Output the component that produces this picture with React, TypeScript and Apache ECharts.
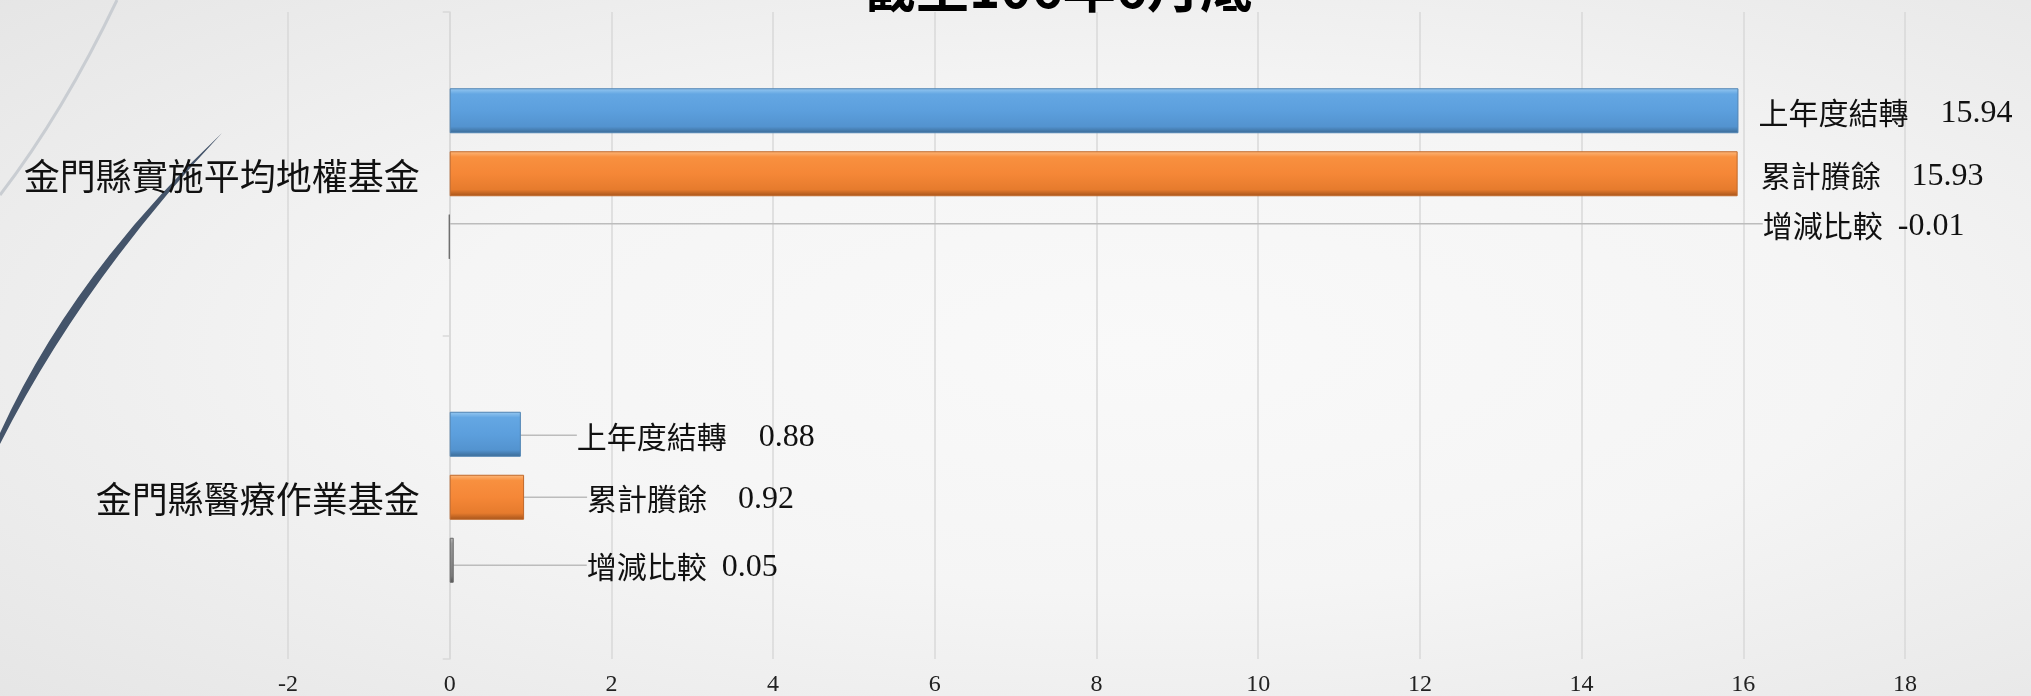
import React, { useEffect, useRef } from 'react';
import * as echarts from 'echarts';

const titleText = '截至106年6月底';
const categories = ['金門縣實施平均地權基金', '金門縣醫療作業基金'];
const seriesNames = ['上年度結轉', '累計賸餘', '增減比較'];
const carryOver = [15.94, 0.88];
const accumulated = [15.93, 0.92];
const difference = [-0.01, 0.05];
const xMin = -2;
const xMax = 18;
const xInterval = 2;

const CHART_W = 2031;
const CHART_H = 696;
const GRID = { left: 288, right: 126, top: 12, bottom: 37 };

// label placement offsets (px), per series then per category
const labelDx = [
  [0, 36],
  [3, 43],
  [1293, 113],
];
const labelDy = [
  [0, 1],
  [0, 0],
  [-13, 5],
];
const gapKey = ['gA', 'gB', 'gC'];
const showLeader = [
  [false, true],
  [false, true],
  [true, true],
];

const grad = (stops: [number, string][]) =>
  new echarts.graphic.LinearGradient(
    0, 0, 0, 1,
    stops.map(([offset, color]) => ({ offset, color }))
  );

const barStyles = [
  {
    color: grad([[0, '#93c6f0'], [0.12, '#64a7e3'], [0.5, '#5c9fdd'], [0.86, '#5393cf'], [1, '#3c6c98']]),
    borderColor: '#4f83b3',
  },
  {
    color: grad([[0, '#fdb577'], [0.12, '#f8903f'], [0.5, '#f58737'], [0.86, '#e67b2d'], [1, '#a9561c']]),
    borderColor: '#c0682a',
  },
  {
    color: grad([[0, '#b8b8b8'], [0.12, '#999999'], [0.5, '#8a8a8a'], [0.86, '#7a7a7a'], [1, '#555555']]),
    borderColor: '#6a6a6a',
  },
];

echarts.graphic.registerShape(
  'crescentDeco',
  echarts.graphic.extendPath('M222,133 Q73,273 0,433 L0,444 Q82,282 222,133 Z', {})
);

const numStyle = (gap: number) => ({
  fontSize: 32,
  fontFamily: '"Liberation Serif"',
  color: '#111111',
  padding: [0, 0, 0, gap],
});

export default function App() {
  const ref = useRef<HTMLDivElement>(null);

  useEffect(() => {
    if (!ref.current) return;
    const chart = echarts.init(ref.current, null, { renderer: 'svg' });
    const valueSets = [carryOver, accumulated, difference];

    // place the category axis at x = 0 of the value axis
    const gridW = CHART_W - GRID.left - GRID.right;
    const zeroOffset = ((0 - xMin) / (xMax - xMin)) * gridW;

    const series = valueSets.map((vals, si) => ({
      name: seriesNames[si],
      type: 'bar',
      barWidth: 45,
      barGap: '40%',
      itemStyle: { ...barStyles[si], borderWidth: 1 },
      data: vals.map((v, di) => ({
        value: v,
        labelLine: { show: showLeader[si][di] },
      })),
      label: {
        show: true,
        position: 'right',
        distance: 10,
        padding: [0, 0, 0, 10],
        formatter: (p: any) =>
          `{n|${p.seriesName}}{${gapKey[p.seriesIndex]}|${Number(p.value).toFixed(2)}}`,
        rich: {
          n: { fontSize: 30, fontFamily: '"Noto Sans CJK TC"', color: '#111111' },
          gA: numStyle(32),
          gB: numStyle(31),
          gC: numStyle(15),
        },
      },
      labelLine: {
        show: true,
        lineStyle: { color: '#bcbcbc', width: 1.5 },
      },
      labelLayout: (p: any) => ({
        dx: labelDx[p.seriesIndex][p.dataIndex],
        dy: labelDy[p.seriesIndex][p.dataIndex],
      }),
    }));

    chart.setOption({
      animation: false,
      backgroundColor: new echarts.graphic.RadialGradient(0.56, 0.5, 1, [
        { offset: 0, color: '#f9f9f9' },
        { offset: 0.35, color: '#f5f5f5' },
        { offset: 1, color: '#dcdcdc' },
      ]),
      graphic: [
        {
          type: 'bezierCurve',
          z: -5,
          shape: { x1: 117, y1: 0, cpx1: 63, cpy1: 113, x2: 0, y2: 195 },
          style: { stroke: '#c9cdd2', lineWidth: 3, fill: null },
        },
        {
          type: 'crescentDeco',
          z: -5,
          x: 0,
          y: 0,
          style: { fill: '#44546a' },
        },
        {
          type: 'text',
          x: 1058,
          y: 11,
          style: {
            text: titleText,
            fill: '#000000',
            fontSize: 53,
            fontWeight: 'bold',
            fontFamily: '"Noto Sans CJK TC"',
            align: 'center',
            verticalAlign: 'bottom',
          },
        },
      ],
      grid: {
        ...GRID,
        containLabel: false,
        outerBoundsMode: 'none',
      },
      xAxis: {
        type: 'value',
        min: xMin,
        max: xMax,
        interval: xInterval,
        axisLine: { show: false },
        axisTick: { show: false },
        splitLine: { lineStyle: { color: '#d9d9d9', width: 1.5 } },
        axisLabel: { fontSize: 24, fontFamily: '"Liberation Serif"', color: '#222222', margin: 12 },
      },
      yAxis: {
        type: 'category',
        inverse: true,
        data: categories,
        offset: -zeroOffset,
        axisLine: { onZero: false, lineStyle: { color: '#d9d9d9', width: 1.5 } },
        axisTick: { show: true, length: 7, lineStyle: { color: '#d9d9d9', width: 1.5 } },
        axisLabel: { fontSize: 36, fontFamily: '"Noto Sans CJK TC"', color: '#111111', margin: 30 },
      },
      series,
    });

    return () => chart.dispose();
  }, []);

  return (
    <div
      ref={ref}
      style={{ position: 'fixed', left: 0, top: 0, width: CHART_W, height: CHART_H }}
    />
  );
}
